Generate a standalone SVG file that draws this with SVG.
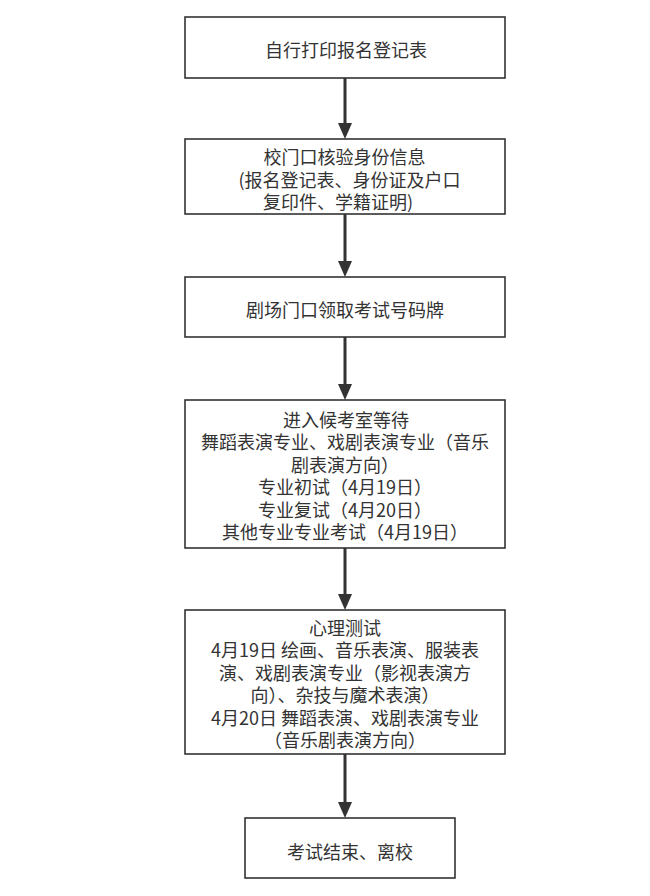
<svg xmlns="http://www.w3.org/2000/svg" width="650" height="896" viewBox="0 0 650 896">
<style>
.box{fill:#fff;stroke:#333;stroke-width:1.6}
.t{font-family:"Noto Sans CJK SC","Noto Sans",sans-serif;font-size:18px;fill:#333;text-anchor:middle}
.c{stroke:#333;stroke-width:3;fill:none}
</style>
<defs>
<marker id="ah" markerUnits="userSpaceOnUse" markerWidth="16" markerHeight="14" refX="0" refY="7" orient="auto" viewBox="0 0 16 14">
<path d="M0,0 L16,7 L0,14 z" fill="#333"/>
</marker>
</defs>
<rect width="650" height="896" fill="#fff"/>
<g id="connectors">
<line class="c" x1="345" y1="78" x2="345" y2="123" marker-end="url(#ah)"/>
<line class="c" x1="345" y1="214" x2="345" y2="261" marker-end="url(#ah)"/>
<line class="c" x1="345" y1="337" x2="345" y2="384" marker-end="url(#ah)"/>
<line class="c" x1="345" y1="548" x2="345" y2="594" marker-end="url(#ah)"/>
<line class="c" x1="345" y1="754" x2="345" y2="802" marker-end="url(#ah)"/>
</g>
<g id="n1">
<rect class="box" x="185" y="17" width="320" height="61"/>
<text class="t" x="346" y="56.5">自行打印报名登记表</text>
</g>
<g id="n2">
<rect class="box" x="185" y="139" width="320" height="75"/>
<text class="t" x="344.5" y="163.5">校门口核验身份信息</text>
<text class="t" x="349.5" y="186.5">(报名登记表、身份证及户口</text>
<text class="t" x="338" y="208.5">复印件、学籍证明)</text>
</g>
<g id="n3">
<rect class="box" x="185" y="277" width="320" height="60"/>
<text class="t" x="345" y="316.5">剧场门口领取考试号码牌</text>
</g>
<g id="n4">
<rect class="box" x="185" y="400" width="320" height="148"/>
<text class="t" x="346" y="426.5">进入候考室等待</text>
<text class="t" x="345" y="449">舞蹈表演专业、戏剧表演专业（音乐</text>
<text class="t" x="345" y="471.5">剧表演方向）</text>
<text class="t" x="345" y="494">专业初试（4月19日）</text>
<text class="t" x="345" y="516.5">专业复试（4月20日）</text>
<text class="t" x="345" y="539">其他专业专业考试（4月19日）</text>
</g>
<g id="n5">
<rect class="box" x="185" y="610" width="320" height="144"/>
<text class="t" x="345" y="634.5">心理测试</text>
<text class="t" x="345" y="657">4月19日 绘画、音乐表演、服装表</text>
<text class="t" x="345" y="679.5">演、戏剧表演专业（影视表演方</text>
<text class="t" x="345" y="702">向）、杂技与魔术表演）</text>
<text class="t" x="345" y="724.5">4月20日 舞蹈表演、戏剧表演专业</text>
<text class="t" x="345" y="747">（音乐剧表演方向）</text>
</g>
<g id="n6">
<rect class="box" x="245" y="818" width="210" height="60"/>
<text class="t" x="350" y="858.5">考试结束、离校</text>
</g>
</svg>
